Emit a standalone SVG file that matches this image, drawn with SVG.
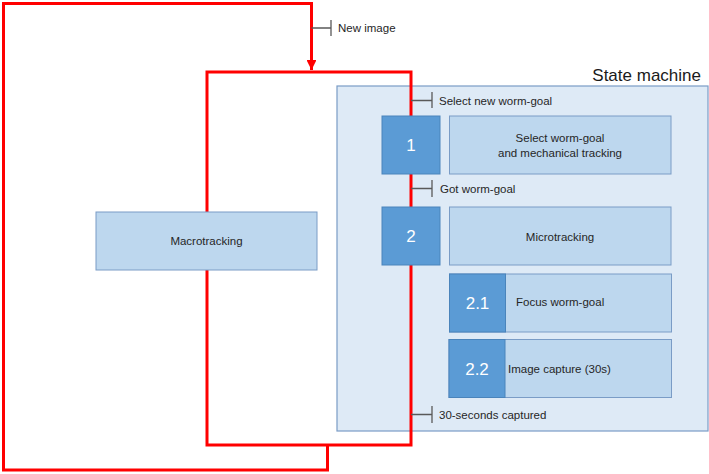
<svg xmlns="http://www.w3.org/2000/svg" width="709" height="474" viewBox="0 0 709 474">
<style>
.lt{fill:#bdd7ee;stroke:#7a9cc6;stroke-width:1}
.dk{fill:#5b9bd5;stroke:#4a84bb;stroke-width:1}
.ct{fill:#deeaf6;stroke:#7a9cc6;stroke-width:1.2}
.red{fill:none;stroke:#ff0000;stroke-width:3;stroke-linejoin:miter}
.tick{fill:none;stroke:#595959;stroke-width:1.3}
.t{font-family:"Liberation Sans",Arial,sans-serif;font-size:11.5px;fill:#262626}
.n{font-family:"Liberation Sans",Arial,sans-serif;font-size:17px;fill:#ffffff;text-anchor:middle}
.c{text-anchor:middle}
</style>
<defs>
<marker id="arr" viewBox="0 0 10 10" refX="10" refY="5" markerWidth="3.3" markerHeight="3.3" orient="auto" markerUnits="strokeWidth">
<path d="M0,0 L10,5 L0,10 Z" fill="#ff0000"/>
</marker>
</defs>
<g id="state-machine">
<rect class="ct" x="337" y="86" width="371" height="345"/>
<text x="701" y="81" font-family="Liberation Sans,Arial,sans-serif" font-size="17" fill="#1a1a1a" text-anchor="end">State machine</text>
</g>
<g id="connectors">
<path class="red" d="M327.5,445 V470 H3.5 V3.5 H311.5 V70" marker-end="url(#arr)"/>
<rect class="red" x="207" y="72" width="204" height="373"/>
<path class="tick" d="M311.5,28 H331 M331,20 V36"/>
<text class="t" x="338" y="32">New image</text>
<path class="tick" d="M411,100.5 H432 M432,92 V108"/>
<text class="t" x="439" y="105">Select new worm-goal</text>
<path class="tick" d="M411,188.5 H432 M432,180 V197"/>
<text class="t" x="440" y="193">Got worm-goal</text>
<path class="tick" d="M411,414.5 H432 M432,406 V423"/>
<text class="t" x="439" y="419">30-seconds captured</text>
</g>
<g id="macrotracking">
<rect class="lt" x="96" y="212" width="221" height="58"/>
<text class="t c" x="206.5" y="245">Macrotracking</text>
</g>
<g id="state1">
<rect class="dk" x="382" y="116" width="58" height="58"/>
<text class="n" x="411" y="151">1</text>
</g>
<g id="select-worm-goal">
<rect class="lt" x="449.5" y="116" width="221.5" height="58"/>
<text class="t c" x="560" y="142">Select worm-goal</text>
<text class="t c" x="560" y="157">and mechanical tracking</text>
</g>
<g id="state2">
<rect class="dk" x="382" y="207" width="58" height="58"/>
<text class="n" x="411" y="242">2</text>
</g>
<g id="microtracking">
<rect class="lt" x="449.5" y="207" width="221.5" height="58"/>
<text class="t c" x="560" y="241">Microtracking</text>
</g>
<g id="focus">
<rect class="lt" x="449.5" y="274" width="222" height="58"/>
<rect class="dk" x="449.5" y="274" width="56" height="58"/>
<text class="n" x="477.5" y="309">2.1</text>
<text class="t" x="516" y="306">Focus worm-goal</text>
</g>
<g id="capture">
<rect class="lt" x="449" y="339.5" width="222.5" height="58"/>
<rect class="dk" x="449" y="339.5" width="56" height="58"/>
<text class="n" x="477" y="374.5">2.2</text>
<text class="t" x="508" y="373">Image capture (30s)</text>
</g>
</svg>
